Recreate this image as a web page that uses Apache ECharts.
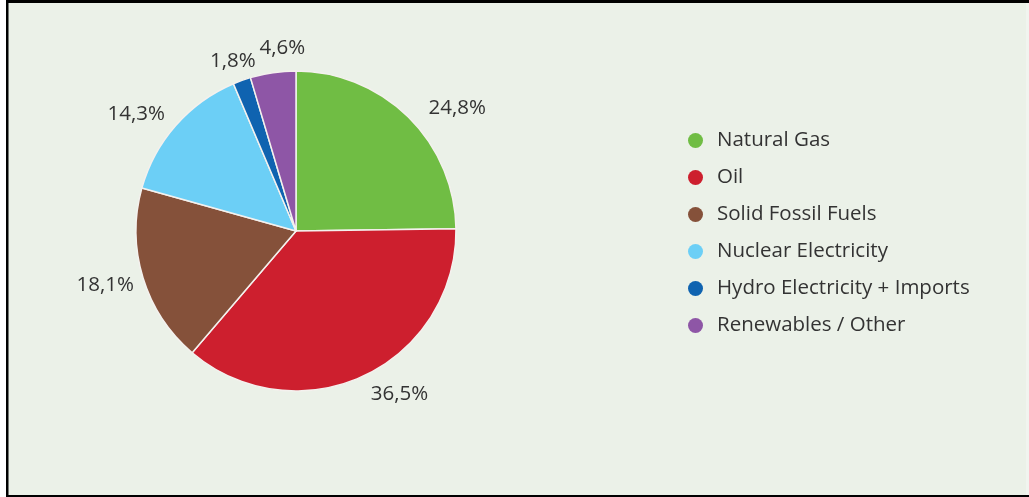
<!DOCTYPE html>
<html>
<head>
<meta charset="utf-8">
<style>
  html, body { margin: 0; padding: 0; background: #ffffff; }
  #chart { width: 1029px; height: 497px; }
</style>
<script src="https://cdn.jsdelivr.net/npm/echarts@6/dist/echarts.min.js"></script>
</head>
<body>
<div id="chart"></div>
<script>
// Energy mix shares (%), clockwise from 12 o'clock
const categories = ['Natural Gas', 'Oil', 'Solid Fossil Fuels', 'Nuclear Electricity', 'Hydro Electricity + Imports', 'Renewables / Other'];
const shares = [24.8, 36.5, 18.1, 14.3, 1.8, 4.6];
const palette = ['#70bd44', '#cd1f2e', '#85513a', '#6ccff6', '#0f63b0', '#8e56a6'];

// small hand adjustments of each percentage label around its slice
const labelNudge = [[21, 19], [21, -12], [3, -5], [-9, 15], [1, 9], [13, 1]];

const CX = 296, CY = 231, R = 160;
const total = shares.reduce((a, b) => a + b, 0);

// mid-angle of each slice (radians, clockwise from top)
const midAngles = [];
let acc = 0;
shares.forEach(v => { midAngles.push(2 * Math.PI * (acc + v / 2) / total); acc += v; });

const fontFamily = '"Open Sans", "Noto Sans", sans-serif';

const chart = echarts.init(document.getElementById('chart'), null, { renderer: 'canvas' });

chart.setOption({
  backgroundColor: '#ffffff',
  animation: false,
  color: palette,
  graphic: [
    { type: 'rect', shape: { x: 8, y: 3, width: 1021, height: 492 }, style: { fill: '#ebf1e8' }, silent: true, z: -10 },
    { type: 'rect', shape: { x: 1026, y: 3, width: 3, height: 492 }, style: { fill: '#f1f4ef' }, silent: true, z: -9 },
    { type: 'rect', shape: { x: 6, y: 0, width: 1023, height: 3 }, style: { fill: '#000000' }, silent: true, z: -8 },
    { type: 'rect', shape: { x: 6, y: 0, width: 2.5, height: 497 }, style: { fill: '#000000' }, silent: true, z: -8 },
    { type: 'rect', shape: { x: 6, y: 495, width: 1023, height: 2 }, style: { fill: '#000000' }, silent: true, z: -8 }
  ],
  legend: {
    orient: 'vertical',
    left: 683,
    top: 125,
    icon: 'circle',
    itemWidth: 15,
    itemHeight: 15,
    itemGap: 16,
    itemStyle: { borderWidth: 0 },
    data: categories,
    textStyle: {
      fontFamily: fontFamily,
      fontSize: 20.5,
      color: '#333333',
      lineHeight: 20,
      padding: [0, 0, 0, 9]
    }
  },
  series: [{
    type: 'pie',
    center: [CX, CY],
    radius: R,
    startAngle: 90,
    clockwise: true,
    avoidLabelOverlap: false,
    itemStyle: { borderColor: '#f4f1ee', borderWidth: 1.5 },
    label: {
      show: true,
      position: 'outside',
      formatter: p => String(p.value).replace('.', ',') + '%',
      fontFamily: fontFamily,
      fontSize: 20.5,
      color: '#333333'
    },
    labelLine: { show: false },
    emphasis: { disabled: true },
    labelLayout: function (params) {
      const i = params.dataIndex;
      const a = midAngles[i];
      const s = Math.sin(a), c = Math.cos(a);
      const w = params.labelRect.width, h = params.labelRect.height;
      const d = R + 12 + Math.abs(s) * w / 2 + Math.abs(c) * h / 2;
      return {
        x: CX + d * s + labelNudge[i][0],
        y: CY - d * c + labelNudge[i][1],
        align: 'center',
        verticalAlign: 'middle'
      };
    },
    data: categories.map((name, i) => ({ name: name, value: shares[i] }))
  }]
});
</script>
</body>
</html>
